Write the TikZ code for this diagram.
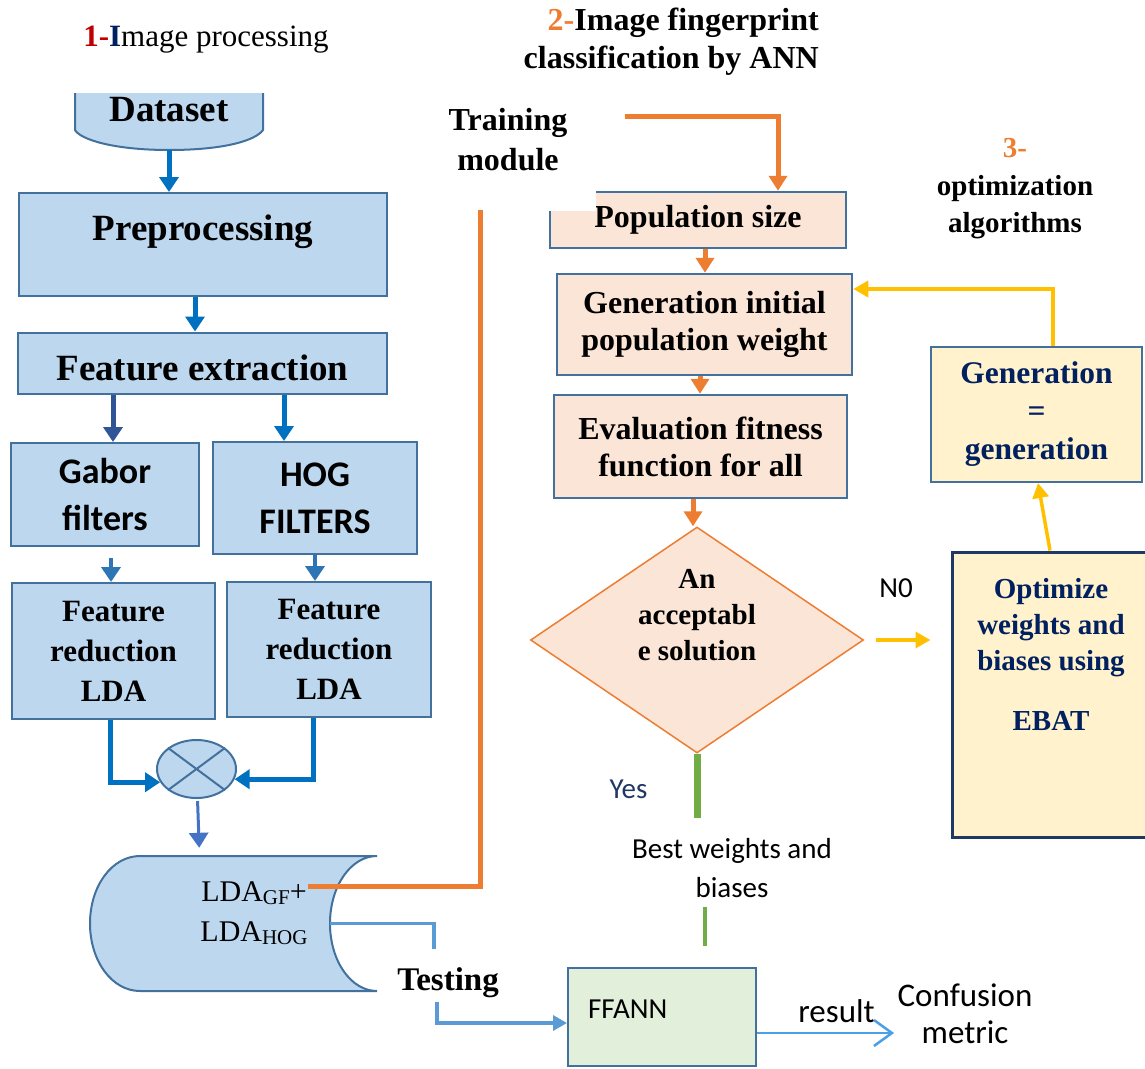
\documentclass[tikz,border=0pt]{standalone}
\usepackage{fontspec}
\setmainfont{Liberation Serif}
\newfontfamily\calibri{Carlito}
\usetikzlibrary{positioning, arrows.meta, shapes.geometric}

\definecolor{boxblue}{HTML}{BDD7EE}
\definecolor{boxline}{HTML}{41719C}
\definecolor{arrblue}{HTML}{0070C0}
\definecolor{darkarr}{HTML}{2F5597}
\definecolor{midarr}{HTML}{2E75B6}
\definecolor{mergearr}{HTML}{4472C4}
\definecolor{peach}{HTML}{FBE5D6}
\definecolor{orangeln}{HTML}{ED7D31}
\definecolor{goldln}{HTML}{FFC000}
\definecolor{cream}{HTML}{FFF2CC}
\definecolor{navy}{HTML}{002060}
\definecolor{navyline}{HTML}{1F3864}
\definecolor{greenln}{HTML}{70AD47}
\definecolor{mint}{HTML}{E2EFDA}
\definecolor{testln}{HTML}{5B9BD5}
\definecolor{resln}{HTML}{4A9FE6}
\definecolor{darkred}{HTML}{C00000}

\begin{document}
\begin{tikzpicture}[
  x=1pt, y=-1pt,
  bluebox/.style={draw=boxline, line width=2pt, fill=boxblue, inner sep=0pt, align=center},
  peachbox/.style={draw=boxline, line width=2.5pt, fill=peach, inner sep=0pt, align=center,
              font=\fontsize{32}{37}\selectfont\bfseries},
  creambox/.style={fill=cream, inner sep=0pt, align=center, text=navy},
  serifbig/.style={font=\fontsize{37}{40}\selectfont\bfseries},
  serifbold/.style={font=\fontsize{31}{40}\selectfont\bfseries},
  calbold/.style={font=\fontsize{36}{47}\selectfont\calibri\bfseries},
  calreg/.style={font=\fontsize{29}{39}\selectfont\calibri},
  calbig/.style={font=\fontsize{33}{37}\selectfont\calibri},
  barr/.style={-{Triangle[length=15pt,width=19pt]}, line width=5pt, draw=arrblue},
  oline/.style={line width=5pt, draw=orangeln},
  oarr/.style={-{Triangle[length=15pt,width=18pt]}, line width=5pt, draw=orangeln},
  yarr/.style={-{Triangle[length=15pt,width=16pt]}, line width=3.5pt, draw=goldln},
  gline/.style={draw=greenln},
  tline/.style={line width=3.5pt, draw=testln},
  tarr/.style={-{Triangle[length=14pt,width=15pt]}, line width=3.5pt, draw=testln},
  rarr/.style={-{Straight Barb[length=18pt,width=26pt]}, line width=2.5pt, draw=resln}
 ]
\useasboundingbox (0,0) rectangle (1145,1068);

\node[font=\fontsize{31}{36}\selectfont] (ttl1) at (206,40)
  {{\bfseries\color{darkred}1-}{\bfseries\color{navy}I}mage processing};
\node[font=\fontsize{32}{38}\selectfont\bfseries, anchor=east, align=right, inner sep=0pt] (ttl2) at (819,42)
  {{\color{orangeln}2-}Image fingerprint\\classification by ANN};
\node[font=\fontsize{29}{37.5}\selectfont\bfseries, align=center] (ttl3) at (1015,189)
  {{\color{orangeln}3-}\\optimization\\algorithms};

\draw[fill=boxblue, draw=boxline, line width=2pt] (75,93) -- (75,130)
  .. controls (80,139) and (112,150) .. (169,150)
  .. controls (226,150) and (256,140) .. (263,130) -- (263,93);
\node[serifbig, inner sep=0pt, text height=28pt, text depth=29pt, minimum width=188] (data) at (169,121.5) {Dataset};
\node[bluebox, serifbig, minimum width=368, minimum height=103, text height=47pt, text depth=56pt] (pre) at (203,244.5) {Preprocessing};
\node[bluebox, serifbig, minimum width=369, text height=47.5pt, text depth=13.5pt] (fe) at (202.5,363) {Feature extraction};
\node[bluebox, calbold, minimum width=188, minimum height=103] (gabor) at (105,494.5) {Gabor\\filters};
\node[bluebox, calbold, minimum width=204, minimum height=112] (hog) at (315,498) {HOG\\FILTERS};
\node[bluebox, serifbold, minimum width=203, minimum height=136] (fr1) at (113.5,651) {Feature\\reduction\\LDA};
\node[bluebox, serifbold, minimum width=204, minimum height=135] (fr2) at (329,649.5) {Feature\\reduction\\LDA};
\node[bluebox, ellipse, minimum width=79, minimum height=58] (comb) at (196.5,769) {};
\draw[boxline, line width=2pt] (comb.north west) -- (comb.south east) (comb.north east) -- (comb.south west);

\draw[fill=boxblue, draw=boxline, line width=2pt] (377,856) -- (140,856)
  .. controls (112,856) and (90,886) .. (90,923.5)
  .. controls (90,961) and (112,991) .. (140,991) -- (377,991)
  .. controls (351,991) and (330,961) .. (330,923.5)
  .. controls (330,886) and (351,856) .. (377,856) -- cycle;
\node[minimum width=287, minimum height=135, inner sep=0pt] (cyl) at (233.5,923.5) {};
\node[font=\fontsize{30}{40}\selectfont, align=center] (lda) at (254,913.5)
  {LDA\raisebox{-3pt}{\fontsize{21}{21}\selectfont GF}+\\LDA\raisebox{-3pt}{\fontsize{21}{21}\selectfont HOG}};

\draw[barr] (data.south) -- (data.south |- pre.north);
\draw[barr] ([xshift=-8pt]pre.south) -- ([xshift=-8pt]pre.south |- fe.north);
\draw[barr, draw=darkarr] ([xshift=8pt]gabor.north |- fe.south) -- ([xshift=8pt]gabor.north);
\draw[barr] ([xshift=-31pt]hog.north |- fe.south) -- ([xshift=-31pt]hog.north);
\draw[barr, draw=midarr, line width=4pt, shorten <=11pt] ([xshift=6pt]gabor.south) -- ([xshift=6pt]gabor.south |- fr1.north);
\draw[barr, draw=midarr, line width=4pt] (hog.south) -- (hog.south |- fr2.north);
\draw[barr] ([xshift=-3.5pt]fr1.south) |- (comb.200);
\draw[barr] ([xshift=-16pt]fr2.south) |- (comb.345);
\draw[barr, draw=mergearr, line width=3pt, shorten <=2pt, shorten >=8pt] ([xshift=1pt]comb.south) -- ([xshift=3pt]comb.south |- cyl.north);

\node[font=\fontsize{32}{40}\selectfont\bfseries, align=center] (train) at (508,140) {Training\\module};
\coordinate (tstart) at (625,116);
\coordinate (gfend) at (308,886);
\coordinate (ttop) at (480,210);
\draw[oline] (gfend) -| (ttop);

\node[peachbox, minimum width=296, minimum height=56] (pop) at (698,220) {Population size};
\fill[white] (546,188) rectangle (596,210.5);
\node[peachbox, minimum width=295, minimum height=101] (genini) at (704.5,324.5) {Generation initial\\population weight};
\node[peachbox, minimum width=293, minimum height=103] (evalf) at (700.5,446.5) {Evaluation fitness\\function for all};
\node[diamond, aspect=1.47, draw=orangeln, line width=1.5pt, fill=peach, inner sep=0pt, minimum width=333, minimum height=226,
      align=center, font=\fontsize{29}{36}\selectfont\bfseries] (dec) at (697,640) {An\\acceptabl\\e solution\\[14pt]\mbox{}};
\draw[oarr] (tstart) -| ([xshift=80pt]pop.north);
\draw[oarr] ([xshift=7pt]pop.south) -- ([xshift=7pt]pop.south |- genini.north);
\draw[oarr] ([xshift=-4.5pt]genini.south) -- ([xshift=-4.5pt]genini.south |- evalf.north);
\draw[oarr] ([xshift=-7.5pt]evalf.south) -- ([xshift=-4pt]dec.north);

\node[creambox, draw=boxline, line width=2pt, font=\fontsize{31.5}{38}\selectfont\bfseries,
      minimum width=211, minimum height=135] (genr) at (1036.5,414.5) {Generation\\=\\generation};
\node[creambox, draw=navyline, line width=3pt, font=\fontsize{29}{36}\selectfont\bfseries,
      minimum width=198, minimum height=285] (optim) at (1051,694.5) {Optimize\\weights and\\biases using\\[24pt]EBAT\\[44pt]\mbox{}};
\node[calreg] (no) at (896,588) {N0};
\draw[yarr, shorten <=12pt, shorten >=20pt] (dec.east) -- (dec.east -| optim.west);
\draw[yarr] ([xshift=-1pt]optim.north) -- ([xshift=1.5pt]genr.south);
\draw[yarr] ([xshift=16.5pt]genr.north) |- ([yshift=35.5pt]genini.east);

\node[calreg, text=navyline] (yes) at (628.5,789) {Yes};
\node[calreg, align=center] (best) at (732,868.5) {Best weights and\\biases};
\node[draw=boxline, line width=2pt, fill=mint, calreg, minimum width=188, minimum height=98, text width=148pt,
      align=left, inner sep=0pt, text height=50pt, text depth=48pt] (ffann) at (662,1017) {FFANN};
\draw[gline, line width=7pt, shorten >=17pt] (dec.south) -- (dec.south |- best.north);
\draw[gline, line width=4pt, shorten <=5pt, shorten >=21pt] ([xshift=-27pt]best.south) -- ([xshift=-27pt]best.south |- ffann.north);

\node[font=\fontsize{33}{40}\selectfont\bfseries] (test) at (448,983) {Testing};
\draw[tline, shorten >=15pt] ([xshift=-47pt]cyl.east) -| ([xshift=-14pt]test.north);
\draw[tarr] ([xshift=-11pt]test.south) |- ([yshift=-6pt]ffann.west);

\node[calbig] (result) at (836.5,1011.5) {result};
\node[calbig, align=center] (conf) at (965,1013.5) {Confusion\\metric};
\draw[rarr] ([yshift=-16pt]ffann.east) -- ([yshift=-16pt]ffann.east -| conf.west);
\end{tikzpicture}
\end{document}
